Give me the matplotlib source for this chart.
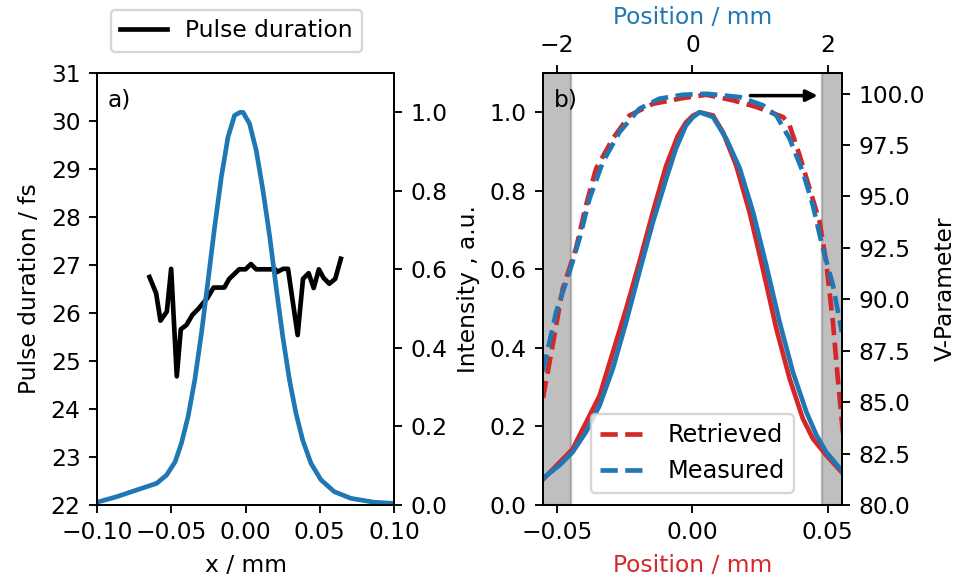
import matplotlib
matplotlib.use("Agg")
from matplotlib import pyplot as plt

# panel a) pulse duration (fs) vs x (mm)
pd_x = [-0.0647, -0.0602, -0.0573, -0.0530, -0.0501, -0.0463, -0.0436, -0.0398,
        -0.0358, -0.0320, -0.0257, -0.0215, -0.0143, -0.0110, -0.0043, 0.0000,
        0.0036, 0.0072, 0.0201, 0.0210, 0.0253, 0.0286, 0.0351, 0.0387, 0.0425,
        0.0459, 0.0494, 0.0526, 0.0564, 0.0604, 0.0642]
pd_y = [26.75, 26.41, 25.84, 26.03, 26.92, 24.68, 25.66, 25.75,
        25.96, 26.08, 26.31, 26.53, 26.53, 26.71, 26.91, 26.91,
        27.02, 26.91, 26.91, 26.85, 26.92, 26.92, 25.54, 26.71, 26.83,
        26.52, 26.91, 26.73, 26.61, 26.71, 27.13]

# panel a) beam intensity profile
prof_x = [-0.0991, -0.0868, -0.0734, -0.0599, -0.0532, -0.0474, -0.0432, -0.0387,
          -0.0342, -0.0297, -0.0252, -0.0208, -0.0163, -0.0118, -0.0074, -0.0036,
          -0.0017, 0.0027, 0.0072, 0.0117, 0.0163, 0.0206, 0.0251, 0.0296,
          0.0340, 0.0385, 0.0441, 0.0508, 0.0597, 0.0709, 0.0866, 0.1000]
prof_y = [0.008, 0.021, 0.038, 0.055, 0.076, 0.110, 0.157, 0.225,
          0.318, 0.437, 0.573, 0.708, 0.835, 0.937, 0.992, 1.000,
          1.000, 0.971, 0.903, 0.802, 0.683, 0.555, 0.428, 0.318,
          0.233, 0.165, 0.106, 0.064, 0.034, 0.017, 0.007, 0.004]

# panel b) intensity, measured (blue) and retrieved (red)
meas_x = [-0.0552, -0.0491, -0.0442, -0.0393, -0.0343, -0.0294, -0.0245, -0.0196,
          -0.0146, -0.0097, -0.0061, -0.0024, 0.0001, 0.0027, 0.0076, 0.0125,
          0.0175, 0.0224, 0.0273, 0.0322, 0.0371, 0.0421, 0.0458, 0.0494,
          0.0552]
meas_i = [0.068, 0.101, 0.135, 0.186, 0.253, 0.347, 0.465, 0.593,
          0.720, 0.830, 0.907, 0.966, 0.987, 1.000, 0.988, 0.933,
          0.857, 0.746, 0.610, 0.466, 0.339, 0.237, 0.178, 0.135,
          0.087]
retr_x = [-0.0552, -0.0442, -0.0343, -0.0245, -0.0196, -0.0146, -0.0097, -0.0054,
          -0.0024, 0.0001, 0.0027, 0.0076, 0.0113, 0.0162, 0.0211, 0.0260,
          0.0310, 0.0359, 0.0408, 0.0445, 0.0494, 0.0552]
retr_i = [0.065, 0.143, 0.278, 0.499, 0.618, 0.746, 0.864, 0.940,
          0.974, 0.991, 1.000, 0.992, 0.949, 0.864, 0.746, 0.602,
          0.449, 0.322, 0.220, 0.169, 0.127, 0.083]

# panel b) V-parameter
vm_x = [-0.0552, -0.0503, -0.0454, -0.0417, -0.0380, -0.0331, -0.0269, -0.0196,
        -0.0122, -0.0036, 0.0052, 0.0175, 0.0260, 0.0310, 0.0359, 0.0408,
        0.0445, 0.0482, 0.0519, 0.0552]
vm_y = [86.5, 89.39, 91.33, 92.95, 94.89, 96.67, 98.13, 99.26,
        99.75, 99.94, 99.99, 99.83, 99.43, 98.94, 97.81, 96.19,
        94.57, 92.47, 90.69, 88.4]
vr_x = [-0.0552, -0.0516, -0.0479, -0.0430, -0.0393, -0.0356, -0.0294, -0.0232,
        -0.0146, -0.0036, 0.0052, 0.0150, 0.0236, 0.0286, 0.0335, 0.0359,
        0.0396, 0.0433, 0.0470, 0.0494, 0.0519, 0.0537, 0.0550, 0.0556]
vr_y = [85.2, 87.78, 90.52, 92.47, 94.57, 96.35, 97.81, 98.94,
        99.50, 99.78, 99.94, 99.67, 99.35, 99.10, 98.86, 98.46,
        97.00, 95.38, 93.76, 91.82, 88.90, 86.16, 84.38, 83.5]

blue = 'tab:blue'
red = 'tab:red'

plt.rcParams['font.size'] = 10
fig = plt.figure(figsize=(961 / 168, 584 / 168), dpi=168)

# ---- panel a)
ax1 = fig.add_axes([0.101, 0.1353, 0.309, 0.7397])
ax1.plot(pd_x, pd_y, color='k', lw=2, label='Pulse duration')
ax1.set_xlim(-0.1, 0.1)
ax1.set_ylim(22, 31)
ax1.set_xlabel('x / mm')
ax1.set_ylabel('Pulse duration / fs')
ax1.text(0.035, 0.965, 'a)', transform=ax1.transAxes, va='top', ha='left')
ax1.legend(loc='lower center', bbox_to_anchor=(0.47, 1.022), fontsize=10)

ax1r = ax1.twinx()
ax1r.plot(prof_x, prof_y, color=blue, lw=2)
ax1r.set_ylim(0, 1.1)
ax1r.set_yticks([0.0, 0.2, 0.4, 0.6, 0.8, 1.0])

# ---- panel b)
ax2 = fig.add_axes([0.565, 0.1353, 0.311, 0.7397])
ax2.axvspan(-0.06, -0.045, color='gray', alpha=0.5)
ax2.axvspan(0.048, 0.06, color='gray', alpha=0.5)
ax2.plot(retr_x, retr_i, color=red, lw=2)
ax2.plot(meas_x, meas_i, color=blue, lw=2)
ax2.set_xlim(-0.0552, 0.0552)
ax2.set_ylim(0, 1.1)
ax2.set_xticks([-0.05, 0.0, 0.05])
ax2.set_yticks([0.0, 0.2, 0.4, 0.6, 0.8, 1.0])
ax2.set_xlabel('Position / mm', color=red)
ax2.set_ylabel('Intensity , a.u.')
ax2.text(0.035, 0.965, 'b)', transform=ax2.transAxes, va='top', ha='left')

top = ax2.secondary_xaxis('top', functions=(lambda v: v * 40, lambda v: v / 40))
top.set_xticks([-2, 0, 2])
top.set_xlabel('Position / mm', color=blue)

ax2r = ax2.twinx()
ax2r.plot(vr_x, vr_y, color=red, lw=2, ls='--', label='Retrieved')
ax2r.plot(vm_x, vm_y, color=blue, lw=2, ls='--', label='Measured')
ax2r.set_ylim(80, 101)
ax2r.set_ylabel('V-Parameter')
ax2r.annotate('', xy=(0.048, 99.9), xytext=(0.0197, 99.9),
              arrowprops=dict(arrowstyle='-|>', color='k', lw=1.5))
ax2r.legend(loc='lower center', fontsize=10.3)

fig.savefig('out.png', dpi=168)
